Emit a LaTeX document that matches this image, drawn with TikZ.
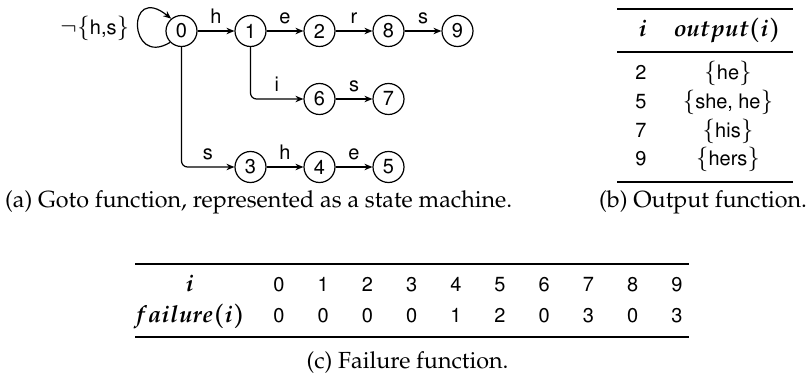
\documentclass[tikz,border=0pt]{standalone}
\usepackage[T1]{fontenc}
\usepackage{mathpazo}
\usepackage[scaled=0.85]{helvet}
\usepackage{bm}
\usetikzlibrary{arrows.meta}
\begin{document}
\begin{tikzpicture}[x=1pt,y=-1pt,
  basef/.style={font=\fontsize{23.5}{28}\selectfont},
  sansf/.style={font=\fontsize{23.5}{28}\selectfont\sffamily},
  capf/.style={font=\fontsize{23.3}{28}\selectfont\rmfamily},
  state/.style={circle, draw, line width=1.2pt, minimum size=31pt, inner sep=0pt, sansf},
  edge/.style={-{Stealth[length=8pt,width=6.5pt]}, line width=1.2pt},
  lbl/.style={sansf, above=7pt, inner sep=0pt},
  cell/.style={sansf, anchor=base, inner sep=0pt},
  hcell/.style={basef, anchor=base, inner sep=0pt},
  toprule/.style={line width=2.5pt},
  midrule/.style={line width=1.5pt}]
\useasboundingbox (0,0) rectangle (812,382);
% --- state machine ---
\node[state] (n0) at (181.5,31) {0};
\node[state] (n1) at (250.5,31) {1};
\node[state] (n2) at (319.5,31) {2};
\node[state] (n8) at (388.5,31) {8};
\node[state] (n9) at (457.5,31) {9};
\node[state] (n6) at (319.5,99) {6};
\node[state] (n7) at (388.5,99) {7};
\node[state] (n3) at (250.5,167) {3};
\node[state] (n4) at (319.5,167) {4};
\node[state] (n5) at (388.5,167) {5};
\node[sansf, anchor=base west, inner sep=0pt] (loopl) at (60,35) {$\neg\{$h,s$\}$};
\draw[edge] (n0.225) .. controls (128,68) and (126,-18) .. (n0.130);
\draw[edge] (n0) -- node[lbl]{h} (n1);
\draw[edge] (n1) -- node[lbl]{e} (n2);
\draw[edge] (n2) -- node[lbl]{r} (n8);
\draw[edge] (n8) -- node[lbl]{s} (n9);
\draw[edge] (n6) -- node[lbl]{s} (n7);
\draw[edge] (n3) -- node[lbl]{h} (n4);
\draw[edge] (n4) -- node[lbl]{e} (n5);
\draw[edge, rounded corners=6pt] (n1.south) |- node[lbl, pos=0.75]{i} (n6.west);
\draw[edge, rounded corners=6pt] (n0.south) |- node[lbl, pos=0.75]{s} (n3.west);
\node[capf, anchor=base west, inner sep=0pt] (capa) at (5,208) {(a) Goto function, represented as a state machine.};
% --- output table ---
\draw[toprule] (617,9) -- (793,9);
\node[hcell] (oh1) at (643,37) {$\bm{i}$};
\node[hcell] (oh2) at (727,37) {$\bm{output(i)}$};
\draw[midrule] (617,52) -- (793,52);
\node[cell] (o21) at (641,80) {2};
\node[cell] (o22) at (728,80) {$\{$he$\}$};
\node[cell] (o51) at (641,109) {5};
\node[cell] (o52) at (728,109) {$\{$she, he$\}$};
\node[cell] (o71) at (641,138) {7};
\node[cell] (o72) at (728,138) {$\{$his$\}$};
\node[cell] (o91) at (641,166) {9};
\node[cell] (o92) at (728,166) {$\{$hers$\}$};
\draw[toprule] (617,182) -- (793,182);
\node[capf, anchor=base west, inner sep=0pt] (capb) at (599,208) {(b) Output function.};
% --- failure table ---
\draw[toprule] (135,264) -- (689,264);
\node[hcell] (fh1) at (190,292) {$\bm{i}$};
\node[hcell] (fh2) at (189,323) {$\bm{failure(i)}$};
\foreach \k/\f in {0/0,1/0,2/0,3/0,4/1,5/2,6/0,7/3,8/0,9/3}{
  \node[cell] (fi\k) at ({279+44.2*\k},292) {\k};
  \node[cell] (ff\k) at ({279+44.2*\k},323) {\f};
}
\draw[toprule] (135,337) -- (689,337);
\node[capf, anchor=base] (capc) at (407.5,368) {(c) Failure function.};
\end{tikzpicture}
\end{document}
